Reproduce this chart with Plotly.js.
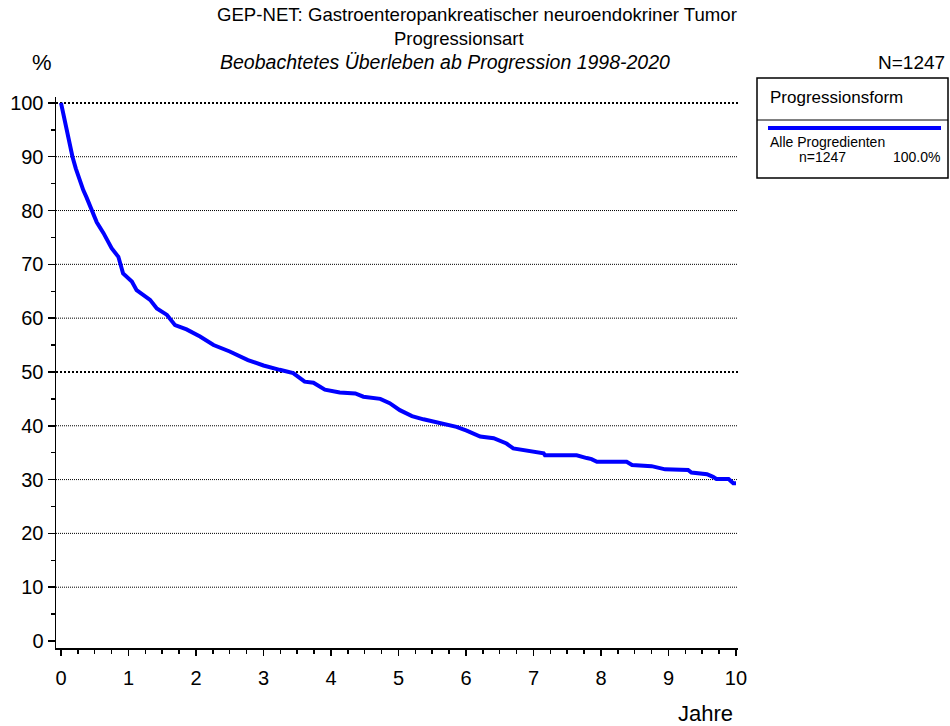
<!DOCTYPE html>
<html>
<head>
<meta charset="utf-8">
<script src="https://cdn.plot.ly/plotly-3.0.1.min.js"></script>
<style>html,body{margin:0;padding:0;background:#fff;}#chart{width:950px;height:726px;}</style>
</head>
<body>
<div id="chart"></div>
<script>
// Data
var years = [0, 0.06, 0.11, 0.17, 0.22, 0.27, 0.33, 0.38, 0.45, 0.53, 0.63, 0.75, 0.85, 0.92, 1.05, 1.12, 1.32, 1.42, 1.57, 1.69, 1.86, 2.06, 2.26, 2.50, 2.77, 3.00, 3.24, 3.44, 3.61, 3.74, 3.91, 4.13, 4.36, 4.48, 4.73, 4.87, 5.02, 5.20, 5.37, 5.57, 5.86, 6.01, 6.21, 6.41, 6.60, 6.70, 6.90, 7.15, 7.17, 7.64, 7.79, 7.86, 7.94, 8.38, 8.46, 8.75, 8.95, 9.29, 9.34, 9.57, 9.66, 9.71, 9.89, 9.96, 10.0];
var survival = [100, 96.3, 93.1, 90.0, 87.8, 85.8, 83.8, 82.4, 80.4, 77.8, 75.8, 73.0, 71.4, 68.3, 66.8, 65.2, 63.4, 61.8, 60.6, 58.7, 57.9, 56.6, 55.0, 53.8, 52.2, 51.2, 50.4, 49.8, 48.2, 48.0, 46.7, 46.2, 46.0, 45.4, 45.0, 44.2, 42.9, 41.8, 41.2, 40.6, 39.8, 39.1, 38.0, 37.7, 36.7, 35.8, 35.4, 34.9, 34.5, 34.5, 34.0, 33.8, 33.3, 33.3, 32.7, 32.5, 31.9, 31.8, 31.3, 31.0, 30.5, 30.1, 30.1, 29.3, 29.3];
var xTicks = [0, 1, 2, 3, 4, 5, 6, 7, 8, 9, 10];
var yTicks = [0, 10, 20, 30, 40, 50, 60, 70, 80, 90, 100];
var gridLevels = [10, 20, 30, 40, 60, 70, 80, 90];
var strongLevels = [50, 100];
var titleLines = ["GEP-NET: Gastroenteropankreatischer neuroendokriner Tumor", "Progressionsart", "Beobachtetes Überleben ab Progression 1998-2020"];
var legendTitle = "Progressionsform";
var seriesName = "Alle Progredienten";
var seriesN = "n=1247";
var seriesPct = "100.0%";
var totalN = "N=1247";

// plot-area geometry (pixels)
var L = 56, R = 738, T = 97, B = 648;
function px(x){ return (x - L) / (R - L); }
function py(y){ return (B - y) / (B - T); }

var FONT = "Liberation Sans, Arial, sans-serif";

var shapes = [];
gridLevels.forEach(function(v){
  shapes.push({type:'line', xref:'paper', yref:'y', x0:0, x1:1, y0:v, y1:v, layer:'below',
    line:{color:'#000', width:1, dash:'1px,1px'}});
});
strongLevels.forEach(function(v){
  shapes.push({type:'line', xref:'paper', yref:'y', x0:0, x1:1, y0:v, y1:v, layer:'below',
    line:{color:'#000', width:2, dash:'2px,2px'}});
});
// legend box
shapes.push({type:'rect', xref:'paper', yref:'paper', x0:px(757), x1:px(948), y0:py(178), y1:py(78),
  line:{color:'#000', width:1.5}, fillcolor:'rgba(0,0,0,0)'});
shapes.push({type:'line', xref:'paper', yref:'paper', x0:px(757), x1:px(948), y0:py(120), y1:py(120),
  line:{color:'#000', width:1}});
shapes.push({type:'line', xref:'paper', yref:'paper', x0:px(768), x1:px(941), y0:py(128), y1:py(128),
  line:{color:'#0000ff', width:4}});

function ann(text, x, y, size, xanchor, italic){
  return {text: italic ? '<i>' + text + '</i>' : text, xref:'paper', yref:'paper', x:px(x), y:py(y),
    xanchor:xanchor || 'center', yanchor:'middle', showarrow:false,
    font:{family:FONT, size:size, color:'#000'}};
}

var annotations = [
  ann(titleLines[0], 477, 15, 18.6, 'center'),
  ann(titleLines[1], 459, 39, 18.5, 'center'),
  ann(titleLines[2], 445, 62, 19.5, 'center', true),
  ann('%', 42, 63, 22, 'center'),
  ann(totalN, 947, 63, 19, 'right'),
  ann('Jahre', 705, 713, 22, 'center'),
  ann(legendTitle, 768, 97, 17, 'left'),
  ann(seriesName, 768, 142, 14, 'left'),
  ann(seriesN, 823, 157, 14, 'center'),
  ann(seriesPct, 942, 157, 14, 'right')
];

var trace = {x: years, y: survival, type:'scatter', mode:'lines',
  line:{color:'#0000ff', width:4, shape:'linear'}, hoverinfo:'skip', showlegend:false};

var layout = {
  width:950, height:726,
  margin:{l:L, r:950-R, t:T, b:726-B, pad:0},
  paper_bgcolor:'#fff', plot_bgcolor:'#fff',
  showlegend:false,
  font:{family:FONT, color:'#000'},
  xaxis:{range:[-0.074, 10.03], tickvals:xTicks, ticktext:xTicks.map(String),
    showgrid:false, zeroline:false, showline:true, linecolor:'#000', linewidth:1.5,
    ticks:'outside', ticklen:6, tickwidth:1.5, tickcolor:'#000', ticklabelstandoff:5,
    minor:{dtick:0.25, tick0:0, ticks:'outside', ticklen:4, tickwidth:1.5, tickcolor:'#000', showgrid:false},
    tickfont:{family:FONT, size:20, color:'#000'}, fixedrange:true},
  yaxis:{range:[-1.3, 101.1], tickvals:yTicks, ticktext:yTicks.map(String),
    showgrid:false, zeroline:false, showline:true, linecolor:'#000', linewidth:1.5,
    ticks:'outside', ticklen:7, tickwidth:1.5, tickcolor:'#000',
    minor:{dtick:5, tick0:0, ticks:'outside', ticklen:4, tickwidth:1.5, tickcolor:'#000', showgrid:false},
    tickfont:{family:FONT, size:20, color:'#000'}, fixedrange:true},
  shapes:shapes,
  annotations:annotations
};

Plotly.newPlot('chart', [trace], layout, {staticPlot:true, displayModeBar:false});
</script>
</body>
</html>
